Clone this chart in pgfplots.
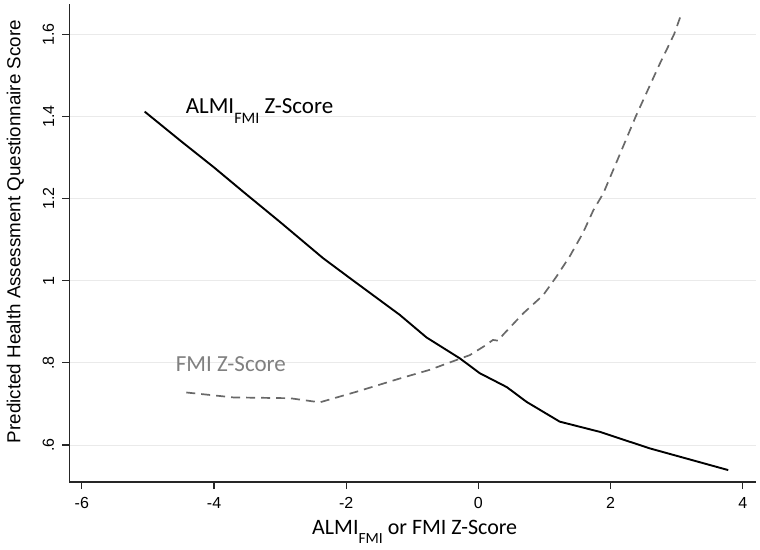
\documentclass[border=0pt]{standalone}
\usepackage{fontspec}
\setmainfont{Carlito}
\newfontfamily\arialfont{Liberation Sans}
\usepackage{pgfplots}
\pgfplotsset{compat=1.18}
\definecolor{gridc}{RGB}{234,234,234}
\definecolor{fmiline}{RGB}{105,105,105}
\definecolor{fmitext}{RGB}{128,128,128}
\newcommand{\sub}[2]{\raisebox{#1}{\fontsize{#2}{#2}\selectfont FMI}}

\begin{document}
\begin{tikzpicture}
\begin{axis}[
    scale only axis,
    width=686.7pt, height=478pt,
    xmin=-6.19, xmax=4.2,
    ymin=0.51, ymax=1.674,
    axis lines*=left,
    axis line style={line width=1.2pt, black!85},
    tick align=outside,
    major tick length=7pt,
    tick style={line width=1.1pt, black!85},
    xtick={-6,-4,-2,0,2,4},
    xticklabels={-6,-4,-2,0,2,4},
    ytick={0.6,0.8,1,1.2,1.4,1.6},
    yticklabels={.6,.8,1,1.2,1.4,1.6},
    ticklabel style={font=\arialfont\fontsize{16}{16}\selectfont},
    xticklabel style={anchor=north, inner sep=0pt, yshift=-8pt},
    yticklabel style={rotate=90, anchor=south, inner sep=0pt, yshift=8pt},
    ymajorgrids,
    grid style={gridc, line width=1pt},
    xlabel={\fontsize{22}{22}\selectfont ALMI\sub{-9.5pt}{15.5} or FMI Z-Score},
    every axis x label/.style={at={(axis description cs:0.503,-0.1088)}, anchor=base},
    ylabel={\arialfont\fontsize{18.8}{18.8}\selectfont Predicted Health Assessment Questionnaire Score},
    every axis y label/.style={at={(axis description cs:-0.0713,0.524)}, rotate=90, anchor=base},
    clip=false,
]
% ALMI_FMI Z-Score
\addplot[black, line width=1.9pt] coordinates {
    (-5.05,1.412) (-4.5,1.340) (-4.0,1.276) (-3.53,1.213)
    (-3.0,1.143) (-2.35,1.055) (-1.89,1.000) (-1.19,0.917)
    (-0.785,0.862) (-0.28,0.811) (0.02,0.775) (0.43,0.741)
    (0.73,0.705) (1.23,0.657) (1.84,0.632) (1.99,0.624)
    (2.59,0.592) (3.78,0.539)
};
% FMI Z-Score
\addplot[fmiline, line width=1.7pt, dash pattern=on 9pt off 6pt] coordinates {
    (-4.42,0.728) (-3.71,0.716) (-2.85,0.714) (-2.40,0.704)
    (-1.84,0.730) (-1.19,0.762) (-0.74,0.783) (-0.13,0.819)
    (0.12,0.844) (0.22,0.856) (0.30,0.854) (0.37,0.868)
    (0.68,0.921) (0.98,0.965) (1.18,1.010) (1.38,1.059)
    (1.58,1.116) (1.74,1.172) (1.89,1.213) (2.04,1.270)
    (2.14,1.308) (2.38,1.400) (2.74,1.527) (2.96,1.600)
    (3.06,1.645)
};
\node[anchor=base west, inner sep=0pt, font=\fontsize{23}{23}\selectfont]
    at (axis cs:-4.43,1.408) {ALMI\sub{-10pt}{16} Z-Score};
\node[anchor=base west, inner sep=0pt, text=fmitext, font=\fontsize{23}{23}\selectfont]
    at (axis cs:-4.58,0.779) {FMI Z-Score};
\end{axis}
\path (current axis.south west) +(-69.3pt,-67pt) (current axis.north east) +(4pt,4pt);
\end{tikzpicture}
\end{document}
